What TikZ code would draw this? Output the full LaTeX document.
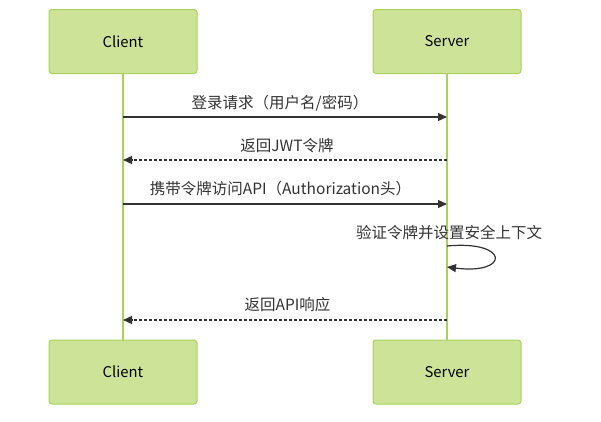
\documentclass[tikz,border=0pt]{standalone}
\usepackage{fontspec}
\setmainfont{Noto Sans CJK SC}
\usetikzlibrary{arrows.meta}
\definecolor{actfill}{RGB}{205,228,152}
\definecolor{actline}{RGB}{168,210,90}
\definecolor{txt}{RGB}{51,51,51}
\begin{document}
\begin{tikzpicture}[x=1pt,y=-1pt,
  actor/.style={draw=actline,fill=actfill,line width=1pt,rounded corners=3pt,minimum width=148pt,minimum height=64pt,inner sep=0pt,font=\fontsize{14.8}{17}\selectfont,text=black},
  life/.style={draw=actline,line width=1.5pt},
  msg/.style={draw=txt,line width=1.2pt,-{Triangle[length=9pt,width=8pt]}},
  ret/.style={msg,dash pattern=on 3pt off 2pt},
  lbl/.style={font=\fontsize{15.5}{18}\selectfont,text=txt,inner sep=0pt}]
\useasboundingbox (0,0) rectangle (601,421);
\node[actor] (c1) at (123,41.5) {Client};
\node[actor] (s1) at (447,41.5) {Server};
\node[actor] (c2) at (123,372) {Client};
\node[actor] (s2) at (447,372) {Server};
\draw[life] (c1.south) -- (c2.north);
\draw[life] (s1.south) -- (s2.north);
\coordinate (a1) at (123,117); \coordinate (b1) at (447,117);
\coordinate (a2) at (123,160); \coordinate (b2) at (447,160);
\coordinate (a3) at (123,204); \coordinate (b3) at (447,204);
\coordinate (a5) at (123,320); \coordinate (b5) at (447,320);
\coordinate (l1) at (447,246); \coordinate (l2) at (447,267);
\draw[msg] (a1) -- (b1);
\node[lbl] (t1) at (280,103) {登录请求（用户名/密码）};
\draw[ret] (b2) -- (a2);
\node[lbl] (t2) at (287,146) {返回JWT令牌};
\draw[msg] (a3) -- (b3);
\node[lbl] (t3) at (280.5,189) {携带令牌访问API（Authorization头）};
\node[lbl] (t4) at (449,233) {验证令牌并设置安全上下文};
\draw[msg] (l1) .. controls (510,240) and (510,275) .. (l2);
\draw[ret] (b5) -- (a5);
\node[lbl] (t5) at (287.5,305) {返回API响应};
\end{tikzpicture}
\end{document}
